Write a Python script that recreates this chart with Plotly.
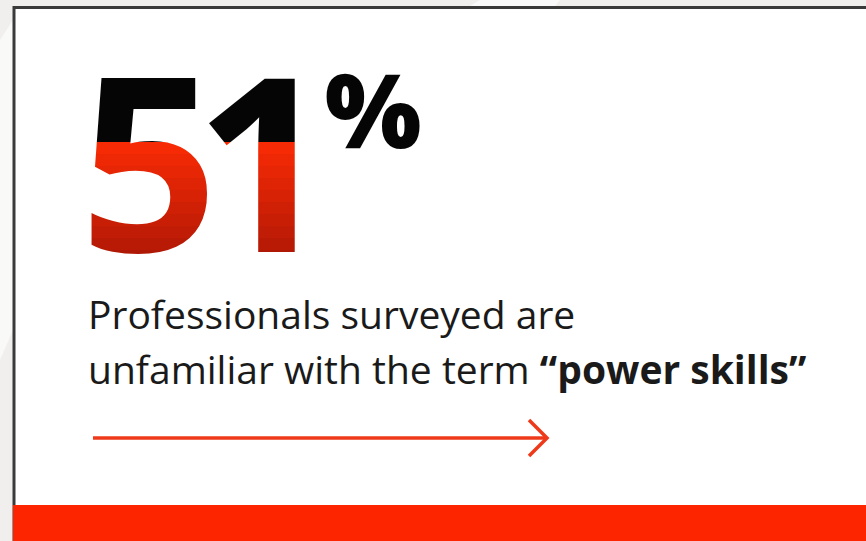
import plotly.graph_objects as go

# ---- data ----
stat_value = 51
stat_suffix = "%"
caption_line1 = "Professionals surveyed are"
caption_line2_plain = "unfamiliar with the term "
caption_line2_bold = "“power skills”"

W, H = 866, 541
digits = list(str(stat_value))
digit_x = [149, 264]          # centre x of each digit (pixels)
digit_y = 191                 # centre y of the digits
digit_size = 242

split_y = 142                 # black above, red below
red_top, red_bottom = 142, 262
n_strips = 10
red_start = (246, 42, 4)
red_end = (176, 24, 6)

fig = go.Figure()

layout_axes = {}
layout_axes["xaxis"] = dict(range=[0, W], domain=[0, 1], visible=False, fixedrange=True)
layout_axes["yaxis"] = dict(range=[H, 0], domain=[0, 1], visible=False, fixedrange=True)

# strips: (top_px, bottom_px, colour)
strips = [(50, split_y, "#050505")]
step = (red_bottom - red_top) // n_strips
for i in range(n_strips):
    t = i / (n_strips - 1)
    c = tuple(int(round(a + (b - a) * t)) for a, b in zip(red_start, red_end))
    strips.append((red_top + i * step, red_top + (i + 1) * step, "rgb(%d,%d,%d)" % c))

font_family = "Open Sans"

for k, (top, bot, col) in enumerate(strips):
    idx = k + 2
    xa, ya = "x%d" % idx, "y%d" % idx
    layout_axes["xaxis%d" % idx] = dict(range=[0, W], domain=[0, 1], visible=False,
                                        fixedrange=True, anchor=ya)
    layout_axes["yaxis%d" % idx] = dict(range=[bot, top], domain=[1 - bot / H, 1 - top / H],
                                        visible=False, fixedrange=True, anchor=xa)
    fig.add_trace(go.Scatter(
        x=digit_x, y=[digit_y] * len(digits), text=digits, mode="text",
        textposition="middle center", cliponaxis=True, hoverinfo="skip",
        textfont=dict(family=font_family, size=digit_size, color=col, weight=700),
        xaxis=xa, yaxis=ya, showlegend=False))

# percent sign
fig.add_trace(go.Scatter(
    x=[373], y=[122], text=[stat_suffix], mode="text", textposition="middle center",
    hoverinfo="skip", showlegend=False,
    textfont=dict(family=font_family, size=102, color="#050505", weight=800)))

shapes = [
    # background decoration
    dict(type="path", xref="x", yref="y", path="M 0 40 L 13 20 L 13 330 L 0 360 Z",
         fillcolor="rgba(255,255,255,0.6)", line=dict(width=0), layer="below"),
    dict(type="path", xref="x", yref="y", path="M 480 0 L 560 0 L 555 6 L 470 6 Z",
         fillcolor="rgba(255,255,255,0.7)", line=dict(width=0), layer="below"),
    # card
    dict(type="rect", xref="x", yref="y", x0=14, y0=7.5, x1=W + 20, y1=H + 20,
         fillcolor="white", line=dict(color="#3a3a3a", width=3), layer="below"),
    # bottom red bar
    dict(type="rect", xref="x", yref="y", x0=13, y0=505, x1=W + 5, y1=H + 5,
         fillcolor="#FD2500", line=dict(width=0), layer="above"),
    # arrow
    dict(type="line", xref="x", yref="y", x0=93, y0=438, x1=547, y1=438,
         line=dict(color="#EE3A1A", width=3.5)),
    dict(type="path", xref="x", yref="y", path="M 529 420 L 547 438 L 529 456",
         line=dict(color="#EE3A1A", width=3.5)),
]

annotations = [
    dict(xref="x", yref="y", x=86, y=313, xanchor="left", yanchor="middle",
         text=caption_line1, showarrow=False,
         font=dict(family=font_family, size=39, color="#1a1a1a")),
    dict(xref="x", yref="y", x=86, y=368, xanchor="left", yanchor="middle",
         text=caption_line2_plain + "<b>" + caption_line2_bold + "</b>", showarrow=False,
         font=dict(family=font_family, size=39, color="#1a1a1a")),
]

fig.update_layout(
    width=W, height=H, margin=dict(l=0, r=0, t=0, b=0),
    paper_bgcolor="#f1efee", plot_bgcolor="rgba(0,0,0,0)",
    shapes=shapes, annotations=annotations, showlegend=False,
    **layout_axes,
)

fig.write_html("out.html", config={"displayModeBar": False},
               post_script="document.body.style.margin='0';document.body.style.overflow='hidden';")
